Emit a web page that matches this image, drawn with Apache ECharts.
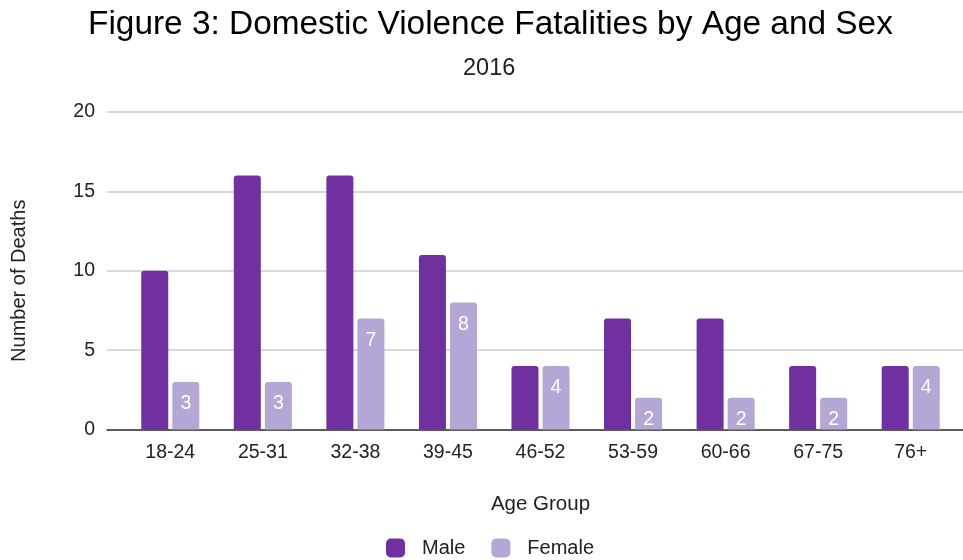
<!DOCTYPE html>
<html>
<head>
<meta charset="utf-8">
<script src="https://cdn.jsdelivr.net/npm/echarts@6/dist/echarts.min.js"></script>
<style>
  html, body { margin: 0; padding: 0; background: #fff; }
  #chart { width: 963px; height: 560px; }
</style>
</head>
<body>
<div id="chart"></div>
<script>
// Age groups and death counts by sex, 2016
const ageGroups = ['18-24', '25-31', '32-38', '39-45', '46-52', '53-59', '60-66', '67-75', '76+'];
const maleDeaths = [10, 16, 16, 11, 4, 7, 7, 4, 4];
const femaleDeaths = [3, 3, 7, 8, 4, 2, 2, 2, 4];
const yTicks = { min: 0, max: 20, interval: 5 };

const FONT = '"Liberation Sans", Arial, sans-serif';
const MALE_COLOR = '#7030a0';
const FEMALE_COLOR = '#b4a7d6';

const chart = echarts.init(document.getElementById('chart'), null, { renderer: 'canvas' });

chart.setOption({
  animation: false,
  backgroundColor: '#fff',
  textStyle: { fontFamily: FONT },
  title: [
    {
      text: 'Figure 3: Domestic Violence Fatalities by Age and Sex',
      left: 83,
      top: 3,
      textStyle: { fontFamily: FONT, fontSize: 33.4, fontWeight: 'normal', color: '#000' }
    },
    {
      text: '2016',
      left: 458,
      top: 52,
      textStyle: { fontFamily: FONT, fontSize: 23.5, fontWeight: 'normal', color: '#222' }
    }
  ],
  legend: {
    data: ['Male', 'Female'],
    left: 381,
    top: 533,
    itemWidth: 19,
    itemHeight: 19,
    itemGap: 26,
    icon: 'roundRect',
    textStyle: { fontFamily: FONT, fontSize: 20, color: '#222', padding: [0, 0, 0, 12] }
  },
  grid: [
    // bars
    { left: 124, right: 6, top: 112, height: 317.5, containLabel: false },
    // gridlines, value labels and baseline
    { left: 107, right: 0, top: 112, height: 317.5, containLabel: false }
  ],
  xAxis: [
    {
      type: 'category',
      gridIndex: 0,
      data: ageGroups,
      axisLine: { show: false },
      axisTick: { show: false },
      axisLabel: { fontFamily: FONT, fontSize: 19.5, color: '#222', margin: 13 },
      name: 'Age Group',
      nameLocation: 'middle',
      nameGap: 64,
      nameTextStyle: { fontFamily: FONT, fontSize: 20.5, color: '#222' }
    },
    {
      type: 'value',
      gridIndex: 1,
      min: 0,
      max: 1,
      axisLine: { show: true, lineStyle: { color: '#333', width: 1.5 } },
      axisTick: { show: false },
      axisLabel: { show: false },
      splitLine: { show: false }
    }
  ],
  yAxis: [
    {
      type: 'value',
      gridIndex: 0,
      min: yTicks.min,
      max: yTicks.max,
      interval: yTicks.interval,
      show: false
    },
    {
      type: 'value',
      gridIndex: 1,
      min: yTicks.min,
      max: yTicks.max,
      interval: yTicks.interval,
      axisLine: { show: false },
      axisTick: { show: false },
      axisLabel: { fontFamily: FONT, fontSize: 19.5, color: '#222', margin: 12 },
      splitLine: { show: true, lineStyle: { color: '#cccccc', width: 1.5 } },
      name: 'Number of Deaths',
      nameLocation: 'middle',
      nameGap: 78,
      nameRotate: 90,
      nameTextStyle: { fontFamily: FONT, fontSize: 20, color: '#222', padding: [0, 20, 0, 0] }
    }
  ],
  series: [
    {
      name: 'Male',
      type: 'bar',
      xAxisIndex: 0,
      yAxisIndex: 0,
      data: maleDeaths,
      barWidth: 27,
      barGap: '15%',
      itemStyle: { color: MALE_COLOR, borderRadius: [3, 3, 0, 0] }
    },
    {
      name: 'Female',
      type: 'bar',
      xAxisIndex: 0,
      yAxisIndex: 0,
      data: femaleDeaths,
      barWidth: 27,
      itemStyle: { color: FEMALE_COLOR, borderRadius: [3, 3, 0, 0] },
      label: {
        show: true,
        position: 'insideTop',
        distance: 12,
        fontFamily: FONT,
        fontSize: 19.5,
        color: '#fff'
      }
    }
  ]
});
</script>
</body>
</html>
